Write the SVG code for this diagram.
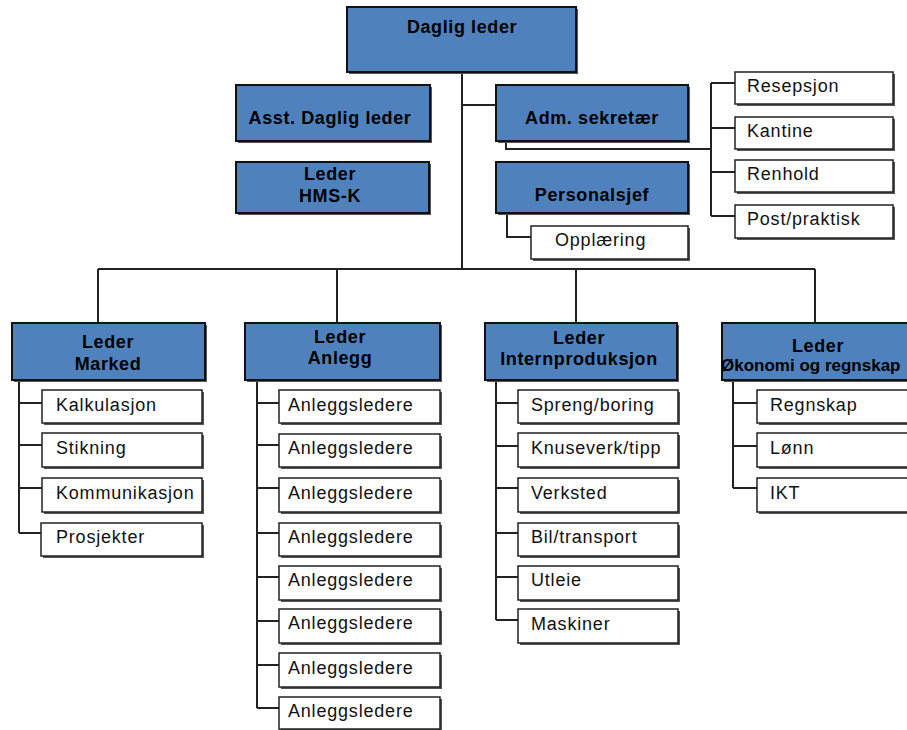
<svg xmlns="http://www.w3.org/2000/svg" width="907" height="730" viewBox="0 0 907 730">
<style>
  .bg{fill:#fff}
  .hb{fill:#4f81bd;stroke:#111;stroke-width:2}
  .sh{fill:#555}
  .wb{fill:#fff;stroke:#222;stroke-width:1.5}
  .ht{font-family:"Liberation Sans",Arial,sans-serif;font-weight:bold;font-size:18px;letter-spacing:0.6px;fill:#000;text-anchor:middle}
  .st{font-family:"Liberation Sans",Arial,sans-serif;font-size:18px;letter-spacing:0.8px;fill:#111}
  .cn{fill:none;stroke:#222;stroke-width:2}
</style>
<rect class="bg" x="0" y="0" width="907" height="730"/>
<g id="connectors">
  <path class="cn" d="M462 72V269M98 269H815M98 269V323M337 269V323M576 269V323M815 269V323M462 105H496"/>
  <path class="cn" d="M506 141V149H711M711 83V216M711 83H735M711 128H735M711 172H735M711 216H735"/>
  <path class="cn" d="M507 213V237H531"/>
  <path class="cn" d="M19 380V533M19 403H42M19 445H42M19 488H42M19 533H42"/>
  <path class="cn" d="M257 380V708M257 403H279M257 445H279M257 488H279M257 533H279M257 577H279M257 621H279M257 665H279M257 708H279"/>
  <path class="cn" d="M496 380V620M496 403H518M496 446H518M496 488H518M496 533H518M496 577H518M496 620H518"/>
  <path class="cn" d="M733 380V488M733 403H757M733 446H757M733 488H757"/>
</g>
<g id="daglig-leder"><rect class="sh" x="349" y="9" width="229" height="65"/><rect class="hb" x="347" y="7" width="229" height="65"/><text class="ht" x="462" y="33">Daglig leder</text></g>
<g id="asst-daglig-leder"><rect class="sh" x="238" y="87" width="194" height="56"/><rect class="hb" x="236" y="85" width="194" height="56"/><text class="ht" x="330" y="124">Asst. Daglig leder</text></g>
<g id="leder-hms-k"><rect class="sh" x="238" y="164" width="193" height="51"/><rect class="hb" x="236" y="162" width="193" height="51"/><text class="ht" x="330" y="180">Leder</text><text class="ht" x="330" y="202">HMS-K</text></g>
<g id="adm-sekretaer"><rect class="sh" x="498" y="87" width="192" height="56"/><rect class="hb" x="496" y="85" width="192" height="56"/><text class="ht" x="592" y="124">Adm. sekretær</text></g>
<g id="personalsjef"><rect class="sh" x="498" y="164" width="192" height="51"/><rect class="hb" x="496" y="162" width="192" height="51"/><text class="ht" x="592" y="201">Personalsjef</text></g>
<g id="opplaering"><rect class="sh" x="533" y="228" width="157" height="33"/><rect class="wb" x="531" y="226" width="157" height="33"/><text class="st" x="555" y="246">Opplæring</text></g>
<g id="resepsjon"><rect class="sh" x="737" y="74" width="158" height="32"/><rect class="wb" x="735" y="72" width="158" height="32"/><text class="st" x="747" y="92">Resepsjon</text></g>
<g id="kantine"><rect class="sh" x="737" y="119" width="158" height="32"/><rect class="wb" x="735" y="117" width="158" height="32"/><text class="st" x="747" y="137">Kantine</text></g>
<g id="renhold"><rect class="sh" x="737" y="162" width="158" height="32"/><rect class="wb" x="735" y="160" width="158" height="32"/><text class="st" x="747" y="180">Renhold</text></g>
<g id="post-praktisk"><rect class="sh" x="737" y="207" width="158" height="33"/><rect class="wb" x="735" y="205" width="158" height="33"/><text class="st" x="747" y="225">Post/praktisk</text></g>
<g id="leder-marked"><rect class="sh" x="14" y="325" width="193" height="57"/><rect class="hb" x="12" y="323" width="193" height="57"/><text class="ht" x="108" y="348">Leder</text><text class="ht" x="108" y="370">Marked</text></g>
<g id="leder-anlegg"><rect class="sh" x="247" y="325" width="195" height="57"/><rect class="hb" x="245" y="323" width="195" height="57"/><text class="ht" x="340" y="343">Leder</text><text class="ht" x="340" y="364">Anlegg</text></g>
<g id="leder-internproduksjon"><rect class="sh" x="487" y="325" width="192" height="57"/><rect class="hb" x="485" y="323" width="192" height="57"/><text class="ht" x="579" y="344">Leder</text><text class="ht" x="579" y="365">Internproduksjon</text></g>
<g id="leder-okonomi"><rect class="sh" x="724" y="325" width="195" height="57"/><rect class="hb" x="722" y="323" width="195" height="57"/><text class="ht" x="818" y="352">Leder</text><text class="ht" x="721" y="371" style="text-anchor:start;font-size:17px;letter-spacing:0">Økonomi og regnskap</text></g>
<g id="kalkulasjon"><rect class="sh" x="44" y="392" width="160" height="33"/><rect class="wb" x="42" y="390" width="160" height="33"/><text class="st" x="56" y="411">Kalkulasjon</text></g>
<g id="stikning"><rect class="sh" x="44" y="435" width="160" height="34"/><rect class="wb" x="42" y="433" width="160" height="34"/><text class="st" x="56" y="454">Stikning</text></g>
<g id="kommunikasjon"><rect class="sh" x="44" y="480" width="160" height="34"/><rect class="wb" x="42" y="478" width="160" height="34"/><text class="st" x="56" y="499">Kommunikasjon</text></g>
<g id="prosjekter"><rect class="sh" x="43" y="525" width="161" height="33"/><rect class="wb" x="41" y="523" width="161" height="33"/><text class="st" x="56" y="543">Prosjekter</text></g>
<g id="anlegg-1"><rect class="sh" x="281" y="392" width="161" height="33"/><rect class="wb" x="279" y="390" width="161" height="33"/><text class="st" x="288" y="411">Anleggsledere</text></g>
<g id="anlegg-2"><rect class="sh" x="281" y="436" width="161" height="33"/><rect class="wb" x="279" y="434" width="161" height="33"/><text class="st" x="288" y="454">Anleggsledere</text></g>
<g id="anlegg-3"><rect class="sh" x="281" y="480" width="161" height="34"/><rect class="wb" x="279" y="478" width="161" height="34"/><text class="st" x="288" y="499">Anleggsledere</text></g>
<g id="anlegg-4"><rect class="sh" x="281" y="525" width="161" height="33"/><rect class="wb" x="279" y="523" width="161" height="33"/><text class="st" x="288" y="543">Anleggsledere</text></g>
<g id="anlegg-5"><rect class="sh" x="281" y="568" width="161" height="34"/><rect class="wb" x="279" y="566" width="161" height="34"/><text class="st" x="288" y="586">Anleggsledere</text></g>
<g id="anlegg-6"><rect class="sh" x="281" y="611" width="161" height="34"/><rect class="wb" x="279" y="609" width="161" height="34"/><text class="st" x="288" y="629">Anleggsledere</text></g>
<g id="anlegg-7"><rect class="sh" x="281" y="655" width="161" height="34"/><rect class="wb" x="279" y="653" width="161" height="34"/><text class="st" x="288" y="674">Anleggsledere</text></g>
<g id="anlegg-8"><rect class="sh" x="281" y="699" width="161" height="32"/><rect class="wb" x="279" y="697" width="161" height="32"/><text class="st" x="288" y="717">Anleggsledere</text></g>
<g id="spreng-boring"><rect class="sh" x="520" y="392" width="160" height="33"/><rect class="wb" x="518" y="390" width="160" height="33"/><text class="st" x="531" y="411">Spreng/boring</text></g>
<g id="knuseverk-tipp"><rect class="sh" x="520" y="435" width="160" height="34"/><rect class="wb" x="518" y="433" width="160" height="34"/><text class="st" x="531" y="454">Knuseverk/tipp</text></g>
<g id="verksted"><rect class="sh" x="520" y="480" width="160" height="34"/><rect class="wb" x="518" y="478" width="160" height="34"/><text class="st" x="531" y="499">Verksted</text></g>
<g id="bil-transport"><rect class="sh" x="520" y="525" width="160" height="33"/><rect class="wb" x="518" y="523" width="160" height="33"/><text class="st" x="531" y="543">Bil/transport</text></g>
<g id="utleie"><rect class="sh" x="520" y="568" width="160" height="34"/><rect class="wb" x="518" y="566" width="160" height="34"/><text class="st" x="531" y="586">Utleie</text></g>
<g id="maskiner"><rect class="sh" x="520" y="611" width="160" height="34"/><rect class="wb" x="518" y="609" width="160" height="34"/><text class="st" x="531" y="630">Maskiner</text></g>
<g id="regnskap"><rect class="sh" x="759" y="392" width="155" height="33"/><rect class="wb" x="757" y="390" width="155" height="33"/><text class="st" x="770" y="411">Regnskap</text></g>
<g id="lonn"><rect class="sh" x="759" y="435" width="155" height="34"/><rect class="wb" x="757" y="433" width="155" height="34"/><text class="st" x="770" y="454">Lønn</text></g>
<g id="ikt"><rect class="sh" x="759" y="480" width="155" height="34"/><rect class="wb" x="757" y="478" width="155" height="34"/><text class="st" x="770" y="499">IKT</text></g>
</svg>
